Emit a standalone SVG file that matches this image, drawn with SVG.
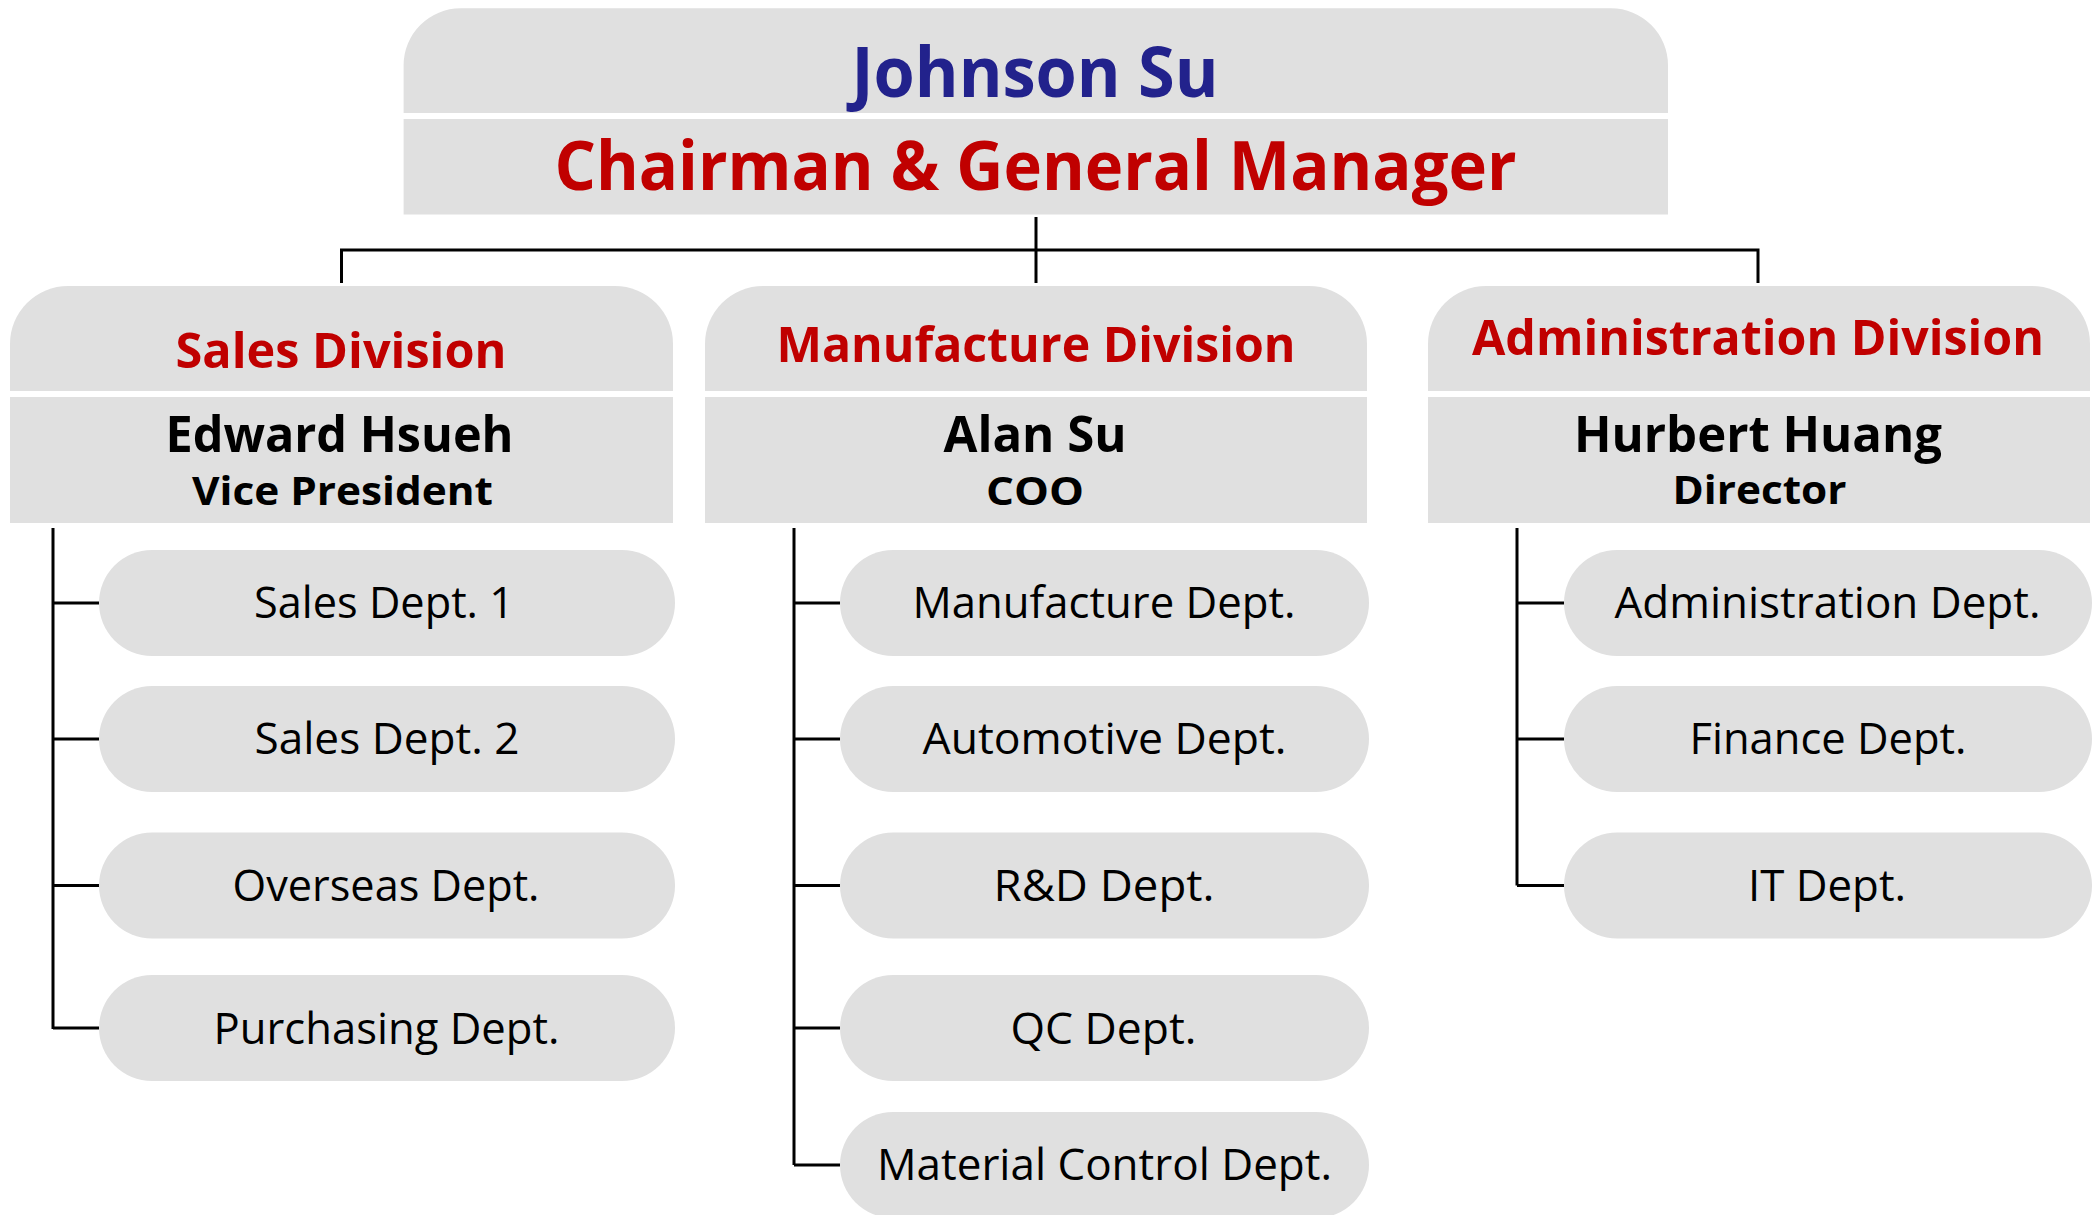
<svg xmlns="http://www.w3.org/2000/svg" width="2096" height="1215" viewBox="0 0 2096 1215">
<style>
.box{fill:#e0e0e0}
.ln{fill:none;stroke:#000;stroke-width:3}
text{font-family:"Open Sans","Noto Sans","Liberation Sans",sans-serif;text-anchor:middle}
.b{font-weight:bold}
.red{fill:#c00000}
.blue{fill:#22228c}
.blk{fill:#000}
.dept{font-size:43px;fill:#000}
</style>
<rect width="2096" height="1215" fill="#ffffff"/>
<g id="connectors">
<path class="ln" d="M1036,217 V283"/>
<path class="ln" d="M341.5,283 V250 H1758 V283"/>
<path class="ln" d="M53,528 V1029 M53,603 H99 M53,739 H99 M53,885.5 H99 M53,1028 H99"/>
<path class="ln" d="M794,528 V1165 M794,603 H840 M794,739 H840 M794,885.5 H840 M794,1028 H840 M794,1165 H840"/>
<path class="ln" d="M1517,528 V885.5 M1517,603 H1564 M1517,739 H1564 M1517,885.5 H1564"/>
</g>
<g id="chairman">
<path class="box" d="M403.6,113 V65.3 A57,57 0 0 1 460.6,8.3 H1611 A57,57 0 0 1 1668,65.3 V113 Z"/>
<rect class="box" x="403.6" y="119" width="1264.4" height="95.5"/>
<text class="b blue" x="1035" y="96.5" font-size="70" textLength="367" lengthAdjust="spacingAndGlyphs">Johnson Su</text>
<text class="b red" x="1035.5" y="190" font-size="68" textLength="962" lengthAdjust="spacingAndGlyphs">Chairman &amp; General Manager</text>
</g>
<g id="sales-division">
<path class="box" d="M10,391 V344 A58,58 0 0 1 68,286 H615 A58,58 0 0 1 673,344 V391 Z"/>
<rect class="box" x="10" y="397" width="663" height="126"/>
<text class="b red" x="341" y="368" font-size="49" textLength="331" lengthAdjust="spacingAndGlyphs">Sales Division</text>
<text class="b blk" x="339.5" y="451.5" font-size="51" textLength="348" lengthAdjust="spacingAndGlyphs">Edward Hsueh</text>
<text class="b blk" x="342.5" y="505" font-size="40" textLength="301" lengthAdjust="spacingAndGlyphs">Vice President</text>
</g>
<g id="manufacture-division">
<path class="box" d="M705,391 V344 A58,58 0 0 1 763,286 H1309 A58,58 0 0 1 1367,344 V391 Z"/>
<rect class="box" x="705" y="397" width="662" height="126"/>
<text class="b red" x="1036" y="362" font-size="49" textLength="519" lengthAdjust="spacingAndGlyphs">Manufacture Division</text>
<text class="b blk" x="1035" y="451.5" font-size="51" textLength="183" lengthAdjust="spacingAndGlyphs">Alan Su</text>
<text class="b blk" x="1035" y="505" font-size="40" textLength="98" lengthAdjust="spacingAndGlyphs">COO</text>
</g>
<g id="administration-division">
<path class="box" d="M1428,391 V344 A58,58 0 0 1 1486,286 H2032 A58,58 0 0 1 2090,344 V391 Z"/>
<rect class="box" x="1428" y="397" width="662" height="126"/>
<text class="b red" x="1758" y="354.5" font-size="49" textLength="572" lengthAdjust="spacingAndGlyphs">Administration Division</text>
<text class="b blk" x="1758" y="451.5" font-size="51" textLength="368" lengthAdjust="spacingAndGlyphs">Hurbert Huang</text>
<text class="b blk" x="1759.5" y="504" font-size="40" textLength="174" lengthAdjust="spacingAndGlyphs">Director</text>
</g>
<g id="sales-dept-1"><rect class="box" x="99" y="550" width="576" height="106" rx="53"/><text class="dept" x="384" y="617.5" textLength="260" lengthAdjust="spacingAndGlyphs">Sales Dept. 1</text></g>
<g id="sales-dept-2"><rect class="box" x="99" y="686" width="576" height="106" rx="53"/><text class="dept" x="387" y="754" textLength="265" lengthAdjust="spacingAndGlyphs">Sales Dept. 2</text></g>
<g id="overseas-dept"><rect class="box" x="99" y="832.5" width="576" height="106" rx="53"/><text class="dept" x="386" y="901" textLength="307" lengthAdjust="spacingAndGlyphs">Overseas Dept.</text></g>
<g id="purchasing-dept"><rect class="box" x="99" y="975" width="576" height="106" rx="53"/><text class="dept" x="386.5" y="1044" textLength="346" lengthAdjust="spacingAndGlyphs">Purchasing Dept.</text></g>
<g id="manufacture-dept"><rect class="box" x="840" y="550" width="529" height="106" rx="53"/><text class="dept" x="1104" y="617.5" textLength="383" lengthAdjust="spacingAndGlyphs">Manufacture Dept.</text></g>
<g id="automotive-dept"><rect class="box" x="840" y="686" width="529" height="106" rx="53"/><text class="dept" x="1104.5" y="754" textLength="364" lengthAdjust="spacingAndGlyphs">Automotive Dept.</text></g>
<g id="rd-dept"><rect class="box" x="840" y="832.5" width="529" height="106" rx="53"/><text class="dept" x="1104" y="901" textLength="221" lengthAdjust="spacingAndGlyphs">R&amp;D Dept.</text></g>
<g id="qc-dept"><rect class="box" x="840" y="975" width="529" height="106" rx="53"/><text class="dept" x="1103.5" y="1044" textLength="186" lengthAdjust="spacingAndGlyphs">QC Dept.</text></g>
<g id="material-control-dept"><rect class="box" x="840" y="1112" width="529" height="106" rx="53"/><text class="dept" x="1104.5" y="1180" textLength="455" lengthAdjust="spacingAndGlyphs">Material Control Dept.</text></g>
<g id="administration-dept"><rect class="box" x="1564" y="550" width="528" height="106" rx="53"/><text class="dept" x="1827.5" y="617.5" textLength="426" lengthAdjust="spacingAndGlyphs">Administration Dept.</text></g>
<g id="finance-dept"><rect class="box" x="1564" y="686" width="528" height="106" rx="53"/><text class="dept" x="1828" y="754" textLength="277" lengthAdjust="spacingAndGlyphs">Finance Dept.</text></g>
<g id="it-dept"><rect class="box" x="1564" y="832.5" width="528" height="106" rx="53"/><text class="dept" x="1827" y="901" textLength="158" lengthAdjust="spacingAndGlyphs">IT Dept.</text></g>
</svg>
